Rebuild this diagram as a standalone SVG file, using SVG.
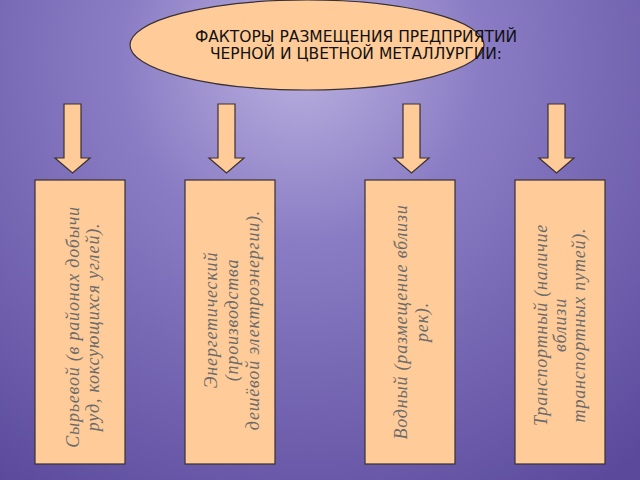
<svg xmlns="http://www.w3.org/2000/svg" width="640" height="480" viewBox="0 0 640 480">
<defs>
<radialGradient id="bg" cx="300" cy="60" r="520" gradientUnits="userSpaceOnUse">
<stop offset="0" stop-color="#b9b0df"/>
<stop offset="0.35" stop-color="#8a7cc4"/>
<stop offset="1" stop-color="#5b4a9c"/>
</radialGradient>
<path id="arr" d="M-8.5,0 H8.5 V54 H17.5 L0,69 L-17.5,54 H-8.5 Z"/>
</defs>
<style>
.f{fill:#ffcc99;stroke:#3a3030;stroke-width:1.2}
.t{font-family:"Liberation Serif",serif;font-style:italic;font-size:18px;letter-spacing:0.8px;fill:#6b6b6b;text-anchor:middle}
.h{font-family:"DejaVu Sans","Liberation Sans",sans-serif;font-size:15.5px;fill:#111;text-anchor:middle}
</style>
<rect width="640" height="480" fill="url(#bg)"/>
<g id="title">
<ellipse class="f" cx="307" cy="45" rx="177" ry="45"/>
<text class="h" x="356" y="42">ФАКТОРЫ РАЗМЕЩЕНИЯ ПРЕДПРИЯТИЙ</text>
<text class="h" x="356" y="59">ЧЕРНОЙ И ЦВЕТНОЙ МЕТАЛЛУРГИИ:</text>
</g>
<g id="connectors">
<use href="#arr" class="f" x="72.5" y="104"/>
<use href="#arr" class="f" x="226.5" y="104"/>
<use href="#arr" class="f" x="411.5" y="104"/>
<use href="#arr" class="f" x="556.5" y="104"/>
</g>
<g id="n1">
<rect class="f" x="35" y="180" width="90" height="284"/>
<text class="t" transform="translate(79,327) rotate(-90)">Сырьевой (в районах добычи</text>
<text class="t" transform="translate(99,327) rotate(-90)">руд, коксующихся углей).</text>
</g>
<g id="n2">
<rect class="f" x="185" y="180" width="90" height="284"/>
<text class="t" transform="translate(217,320) rotate(-90)">Энергетический</text>
<text class="t" transform="translate(238,320) rotate(-90)">(производства</text>
<text class="t" transform="translate(259,320) rotate(-90)">дешёвой электроэнергии).</text>
</g>
<g id="n3">
<rect class="f" x="365" y="180" width="90" height="284"/>
<text class="t" transform="translate(407,322) rotate(-90)">Водный (размещение вблизи</text>
<text class="t" transform="translate(428,322) rotate(-90)">рек).</text>
</g>
<g id="n4">
<rect class="f" x="515" y="180" width="90" height="284"/>
<text class="t" transform="translate(547,325) rotate(-90)">Транспортный (наличие</text>
<text class="t" transform="translate(566,325) rotate(-90)">вблизи</text>
<text class="t" transform="translate(585,325) rotate(-90)">транспортных путей).</text>
</g>
</svg>
